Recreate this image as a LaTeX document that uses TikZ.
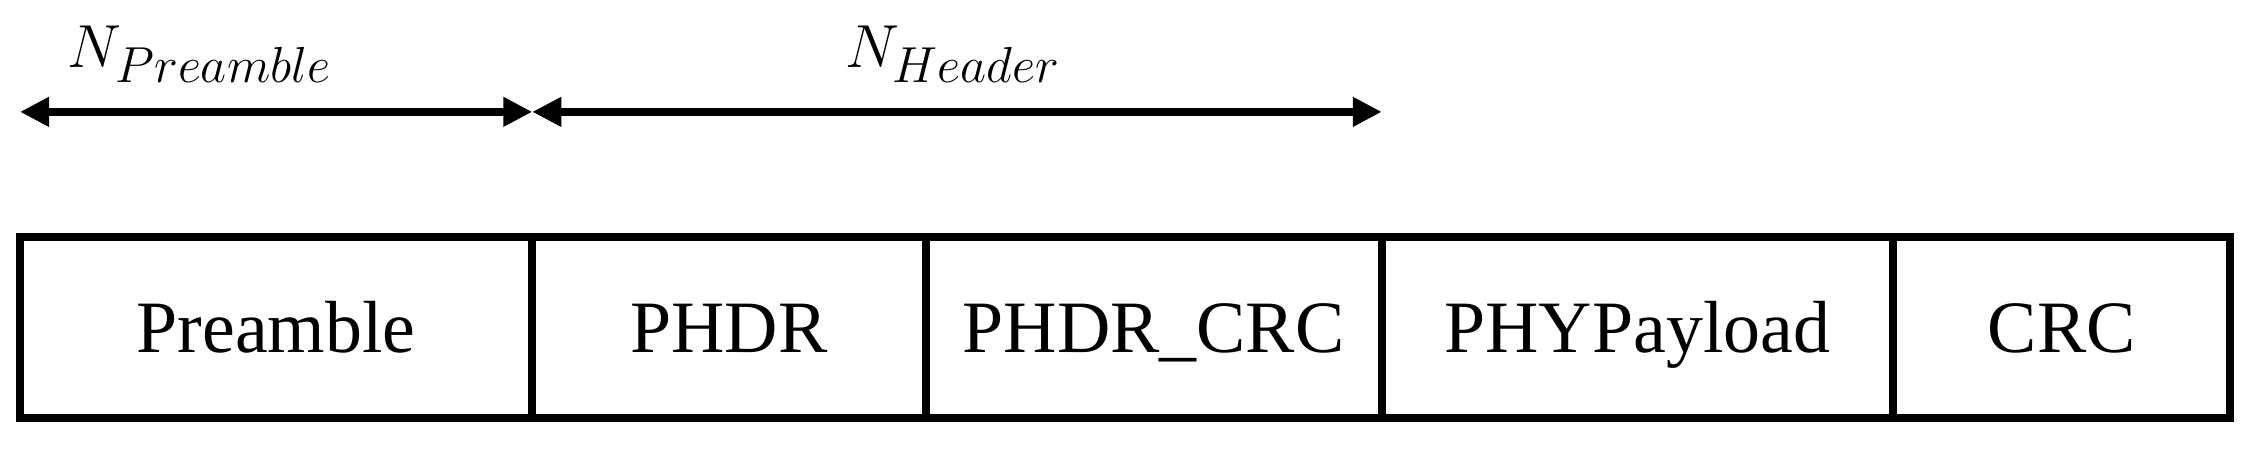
\documentclass[tikz,border=0pt]{standalone}
\usepackage{fontspec}
\setmainfont{Liberation Serif}
\usepackage{tikz}
\usetikzlibrary{positioning,arrows.meta}

\begin{document}
\begin{tikzpicture}[x=0.01cm,y=0.01cm,
    fieldbox/.style={draw,line width=2.27pt,minimum height=1.81cm,inner sep=0pt,outer sep=0pt,
      text height=0.6cm,text depth=0.11cm,font=\fontsize{21}{25}\selectfont},
    spanarrow/.style={line width=2.27pt,{Triangle[length=0.29cm,width=0.28cm]}-{Triangle[length=0.29cm,width=0.28cm]}},
    sizelabel/.style={anchor=base,inner sep=0pt,font=\fontsize{19}{23}\selectfont}]
      \useasboundingbox (0,0) rectangle (2247,449);

      \node (pre) at (20,121.5) [fieldbox,anchor=west,minimum width=5.12cm] {Preamble};
      \node (hdr) [fieldbox,right=0pt of pre,minimum width=3.93cm] {PHDR};
      \node (hcrc) [fieldbox,right=0pt of hdr,minimum width=4.56cm] {PHDR\_CRC};
      \node (pay) [fieldbox,right=0pt of hcrc,minimum width=5.11cm] {PHYPayload};
      \node (crc) [fieldbox,right=0pt of pay,minimum width=3.37cm] {CRC};

      \coordinate (a0) at ([yshift=1.25cm]pre.north west);
      \coordinate (a1) at ([yshift=1.25cm]pre.north east);
      \coordinate (a2) at ([yshift=1.25cm]hcrc.north east);
      \draw[spanarrow] (a0) -- (a1);
      \draw[spanarrow] (a1) -- (a2);

      \node (npre) at (200,381) [sizelabel] {$N_{Preamble}$};
      \node (nhdr) at (953,381) [sizelabel] {$N_{Header}$};
\end{tikzpicture}
\end{document}
